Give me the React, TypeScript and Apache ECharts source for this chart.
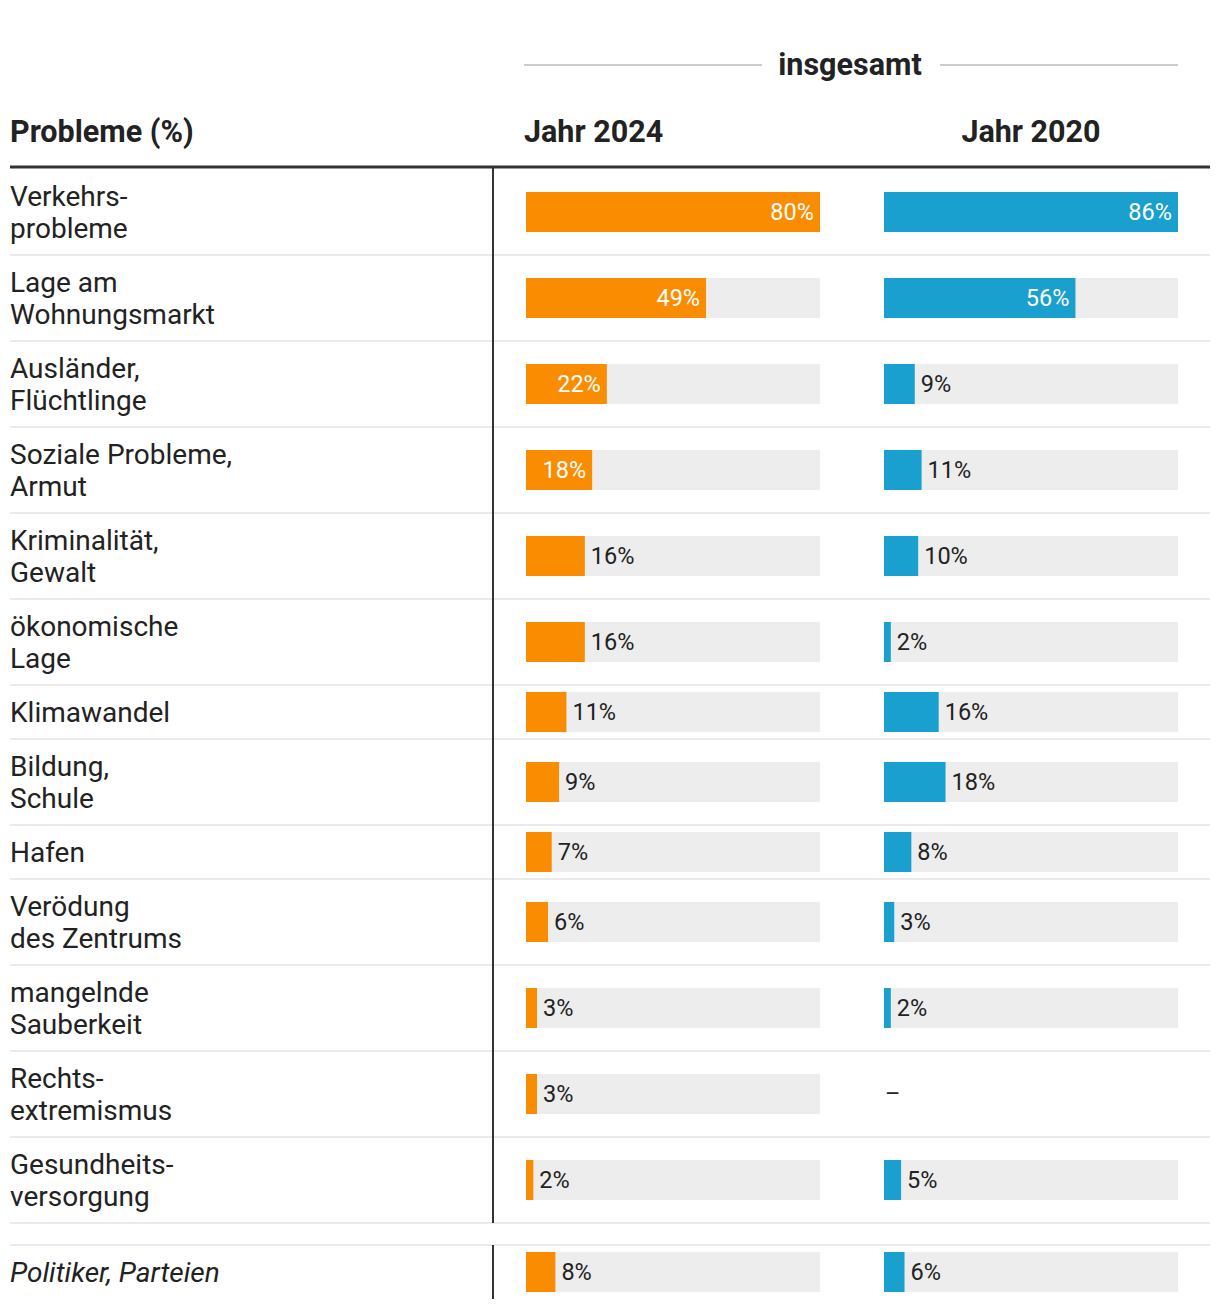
import React, { useEffect, useRef } from "react";
import * as echarts from "echarts";

// ---------- data ----------
const categories = [
  "Verkehrs-\nprobleme",
  "Lage am\nWohnungsmarkt",
  "Ausländer,\nFlüchtlinge",
  "Soziale Probleme,\nArmut",
  "Kriminalität,\nGewalt",
  "ökonomische\nLage",
  "Klimawandel",
  "Bildung,\nSchule",
  "Hafen",
  "Verödung\ndes Zentrums",
  "mangelnde\nSauberkeit",
  "Rechts-\nextremismus",
  "Gesundheits-\nversorgung",
  "Politiker, Parteien",
];
const values2024: (number | null)[] = [80, 49, 22, 18, 16, 16, 11, 9, 7, 6, 3, 3, 2, 8];
const values2020: (number | null)[] = [86, 56, 9, 11, 10, 2, 16, 18, 8, 3, 2, null, 5, 6];
const columnTitles = ["Jahr 2024", "Jahr 2020"];
const groupTitle = "insgesamt";
const rowHeaderTitle = "Probleme (%)";
const separatedFrom = 13; // index of the first row of the separated (italic) block

// ---------- style / layout ----------
const COLORS = ["#F98C00", "#1AA0CE"];
const BG = "#EDEDED";
const TEXT = "#222222";
const FONT = "Roboto";
const TOP = 169;
const LINE_H = 32;
const ROW_PAD = 22;
const GAP = 22;
const COL_LEFT = [526, 884];
const COL_W = 294;
const LABEL_X = 10;
const RIGHT_X = 1210;
const DIVIDER_X = 493;
const INSIDE_MIN_PX = 64;
const HEAD_SIZE = 30.5;

export default function App() {
  const ref = useRef<HTMLDivElement>(null);

  useEffect(() => {
    if (!ref.current) return;
    const chart = echarts.init(ref.current, undefined, { renderer: "svg" });

    // row layout
    const heights = categories.map((c) => ROW_PAD + LINE_H * c.split("\n").length);
    const tops: number[] = [];
    let y = TOP;
    categories.forEach((_, i) => {
      if (i === separatedFrom) y += GAP;
      tops.push(y);
      y += heights[i];
    });

    const cols = [values2024, values2020];
    const colMax = cols.map((vals) => Math.max(...(vals.filter((v) => v != null) as number[])));

    const grids: any[] = [];
    const xAxes: any[] = [];
    const yAxes: any[] = [];
    const series: any[] = [];

    cols.forEach((vals, c) => {
      categories.forEach((cat, i) => {
        const k = grids.length;
        grids.push({ left: COL_LEFT[c], width: COL_W, top: tops[i], height: heights[i], containLabel: false });
        xAxes.push({ gridIndex: k, type: "value", min: 0, max: colMax[c], show: false });
        yAxes.push({
          gridIndex: k,
          type: "category",
          data: [cat],
          show: c === 0,
          axisLine: { show: false },
          axisTick: { show: false },
          axisLabel: {
            show: c === 0,
            align: "left",
            margin: COL_LEFT[0] - LABEL_X,
            fontSize: 28,
            lineHeight: LINE_H,
            color: TEXT,
            fontFamily: FONT,
            fontStyle: i >= separatedFrom ? "italic" : "normal",
          },
        });
        const v = vals[i];
        const inside = v != null && (v / colMax[c]) * COL_W >= INSIDE_MIN_PX;
        series.push({
          type: "bar",
          xAxisIndex: k,
          yAxisIndex: k,
          barWidth: 40,
          showBackground: v != null,
          backgroundStyle: { color: BG },
          itemStyle: { color: COLORS[c] },
          data: [v == null ? 0 : v],
          label: {
            show: true,
            position: inside ? "insideRight" : "right",
            distance: v == null ? 1 : 6,
            color: inside ? "#ffffff" : TEXT,
            fontSize: 23.5,
            fontFamily: FONT,
            formatter: v == null ? "–" : "{c}%",
          },
        });
      });
    });

    // graphic: headers, rules, separators
    const graphics: any[] = [];
    const mid = (COL_LEFT[0] + COL_LEFT[1] + COL_W) / 2;
    const headStyle = { fontSize: HEAD_SIZE, fontWeight: "bold", fill: TEXT, fontFamily: FONT, verticalAlign: "middle" };
    graphics.push(
      { type: "line", shape: { x1: 524, y1: 65, x2: 762, y2: 65 }, style: { stroke: "#cccccc", lineWidth: 2 } },
      { type: "line", shape: { x1: 940, y1: 65, x2: 1178, y2: 65 }, style: { stroke: "#cccccc", lineWidth: 2 } },
      { type: "text", x: mid - 2, y: 64, style: { ...headStyle, text: groupTitle, align: "center" } },
      { type: "text", x: LABEL_X, y: 131, style: { ...headStyle, text: rowHeaderTitle, align: "left" } },
      { type: "text", x: 524, y: 131, style: { ...headStyle, text: columnTitles[0], align: "left" } },
      { type: "text", x: 1031, y: 131, style: { ...headStyle, text: columnTitles[1], align: "center" } }
    );
    // row separators
    categories.forEach((_, i) => {
      const bottom = tops[i] + heights[i];
      if (i < categories.length - 1) {
        graphics.push({
          type: "line",
          shape: { x1: LABEL_X, y1: bottom, x2: RIGHT_X, y2: bottom },
          style: { stroke: "#EBEBEB", lineWidth: 2 },
        });
      }
      if (i === separatedFrom - 1) {
        const t = tops[i + 1];
        graphics.push({
          type: "line",
          shape: { x1: LABEL_X, y1: t, x2: RIGHT_X, y2: t },
          style: { stroke: "#EBEBEB", lineWidth: 2 },
        });
      }
    });
    // vertical divider and header rule
    const blockEnd = tops[separatedFrom - 1] + heights[separatedFrom - 1];
    const lastEnd = tops[categories.length - 1] + heights[categories.length - 1];
    graphics.push(
      { type: "line", shape: { x1: DIVIDER_X, y1: TOP - 1, x2: DIVIDER_X, y2: blockEnd }, style: { stroke: "#333333", lineWidth: 2 } },
      { type: "line", shape: { x1: DIVIDER_X, y1: tops[separatedFrom], x2: DIVIDER_X, y2: lastEnd }, style: { stroke: "#333333", lineWidth: 2 } },
      { type: "line", shape: { x1: LABEL_X, y1: 167, x2: RIGHT_X, y2: 167 }, style: { stroke: "#333333", lineWidth: 3 } }
    );

    chart.setOption({
      animation: false,
      textStyle: { fontFamily: FONT },
      grid: grids,
      xAxis: xAxes,
      yAxis: yAxes,
      series,
      graphic: { elements: graphics },
    });

    return () => chart.dispose();
  }, []);

  return (
    <div
      ref={ref}
      style={{ position: "absolute", left: 0, top: 0, width: 1220, height: 1308, background: "#fff" }}
    />
  );
}
